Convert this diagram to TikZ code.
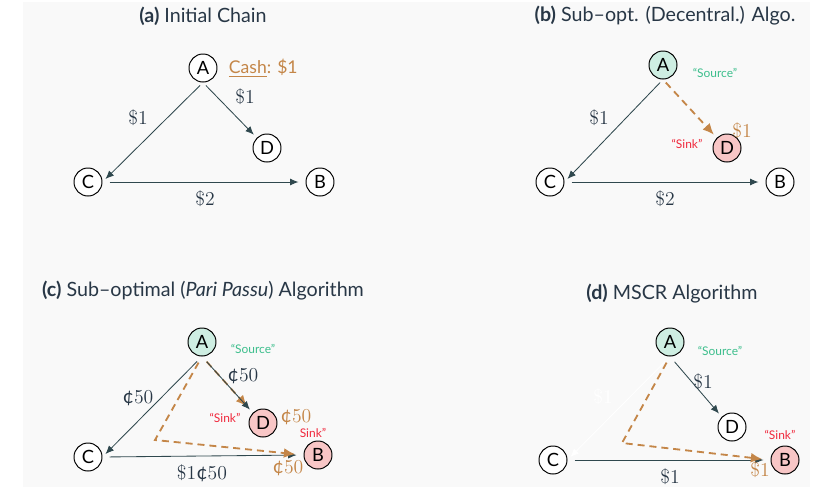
\documentclass[tikz,border=0pt]{standalone}
\usepackage{fontspec}
\setsansfont{Lato}
\usetikzlibrary{arrows.meta}
\definecolor{bgc}{RGB}{249,249,249}
\definecolor{linec}{RGB}{47,72,78}
\definecolor{textc}{RGB}{40,55,70}
\definecolor{tanc}{RGB}{196,134,72}
\definecolor{srcfill}{RGB}{206,238,226}
\definecolor{snkfill}{RGB}{248,198,198}
\definecolor{srctext}{RGB}{60,190,140}
\definecolor{snktext}{RGB}{240,40,60}
\newcommand{\cent}{\textsf{¢}}

\begin{document}
\begin{tikzpicture}[
  x=0.025cm, y=-0.025cm,
  agent/.style={circle, draw, line width=0.7pt, fill=white, minimum size=0.7cm,
    inner sep=0pt, font=\sffamily\fontsize{13}{14}\selectfont},
  source/.style={agent, fill=srcfill},
  sink/.style={agent, fill=snkfill},
  title/.style={font=\sffamily\fontsize{14}{16}\selectfont, text=textc},
  amt/.style={font=\fontsize{14}{16}\selectfont, text=textc},
  tanamt/.style={amt, text=tanc},
  srctag/.style={font=\sffamily\fontsize{8.5}{9}\selectfont, text=srctext},
  snktag/.style={font=\sffamily\fontsize{8.5}{9}\selectfont, text=snktext},
  flow/.style={draw=linec, line width=0.6pt, -{Latex[length=6pt,width=5pt]},
    shorten <=3pt},
  cashflow/.style={draw=tanc, line width=1.3pt, dash pattern=on 5pt off 3.5pt,
    -{Latex[length=8pt,width=7pt]}, shorten <=3pt}
]
  \useasboundingbox (0,0) rectangle (825,489);
  \fill[bgc] (23,2) rectangle (810,487);
  %
  % (a) initial chain
  \node[title] (ta) at (203,16) {\textbf{(a)} Initial Chain};
  \node[agent] (Aa) at (203,68) {A};
  \node[agent] (Da) at (267,148) {D};
  \node[agent] (Ca) at (88,182) {C};
  \node[agent] (Ba) at (320,182) {B};
  \node[anchor=west, font=\sffamily\fontsize{12.5}{14}\selectfont, text=tanc]
    (casha) at (224,68) {\underline{Cash}: \$1};
  \draw[flow, shorten >=3pt] (Aa.south) -- (Ca.east);
  \draw[flow, shorten >=3pt] (Aa.south) -- (Da.north west);
  \draw[flow, shorten <=5pt, shorten >=5pt] (Ca.east) -- (Ba.west);
  \node[amt] (ACa) at (138,118) {\$1};
  \node[amt] (ADa) at (245,97) {\$1};
  \node[amt] (CBa) at (205,199) {\$2};
  %
  % (b) decentralised
  \node[title] (tb) at (665,16) {\textbf{(b)} Sub--opt. (Decentral.) Algo.};
  \node[source] (Ab) at (663,65) {A};
  \node[sink] (Db) at (727,148) {D};
  \node[agent] (Cb) at (550,182) {C};
  \node[agent] (Bb) at (780,182) {B};
  \node[srctag] (srcb) at (715,73) {``Source''};
  \node[snktag] (snkb) at (687,144) {``Sink''};
  \draw[flow, shorten >=3pt] (Ab.south) -- (Cb.east);
  \draw[flow, shorten <=5pt, shorten >=5pt] (Cb.east) -- (Bb.west);
  \draw[cashflow, shorten >=3pt] (Ab.south) -- (Db.north west);
  \node[tanamt] (cb) at (742,131) {\$1};
  \node[amt] (ACb) at (599,118) {\$1};
  \node[amt] (CBb) at (665,199) {\$2};
  %
  % (c) pari passu
  \node[title] (tc) at (203,291) {\textbf{(c)} Sub--optimal (\textit{Pari Passu}) Algorithm};
  \node[source] (Ac) at (202,342) {A};
  \node[sink] (Dc) at (263,423) {D};
  \node[agent] (Cc) at (88,457) {C};
  \node[sink] (Bc) at (318,455) {B};
  \coordinate (kc) at (155,440);
  \node[srctag] (srcc) at (253,349) {``Source''};
  \node[snktag] (snkc) at (225,418) {``Sink''};
  \node[snktag] (snkc2) at (313,433) {Sink''};
  \draw[flow, shorten <=5pt, shorten >=3pt] (Ac.south) -- (Cc.east);
  \draw[cashflow, shorten <=5pt, shorten >=6pt] (Ac.south) -- (Dc.north west);
  \draw[flow, shorten <=5pt, shorten >=3pt] (Ac.south) -- (Dc.north west);
  \draw[flow, shorten <=5pt, shorten >=5pt] (Cc.east) -- (Bc.west);
  \draw[cashflow, shorten <=5pt, shorten >=6pt] (Ac.south) -- (kc) -- (Bc.west);
  \node[tanamt] (cc1) at (296,417) {\cent50};
  \node[tanamt] (cc2) at (288,468) {\cent50};
  \node[amt] (ACc) at (138,398) {\cent50};
  \node[amt] (ADc) at (243,376) {\cent50};
  \node[amt] (CBc) at (202,473) {\$1\cent50};
  %
  % (d) MSCR
  \node[title] (td) at (672,294) {\textbf{(d)} MSCR Algorithm};
  \node[source] (Ad) at (670,342) {A};
  \node[agent] (Dd) at (732,427) {D};
  \node[agent] (Cd) at (553,460) {C};
  \node[sink] (Bd) at (785,460) {B};
  \coordinate (kd) at (622,443);
  \node[srctag] (srcd) at (720,351) {``Source''};
  \node[snktag] (snkd) at (780,435) {``Sink''};
  \draw[flow, draw=white, shorten <=5pt, shorten >=3pt] (Ad.south) -- (Cd.east);
  \draw[flow, shorten <=5pt, shorten >=3pt] (Ad.south) -- (Dd.north west);
  \draw[flow, shorten <=5pt, shorten >=5pt] (Cd.east) -- (Bd.west);
  \draw[cashflow, shorten <=5pt, shorten >=6pt] (Ad.south) -- (kd) -- (Bd.west);
  \node[amt, text=white] (ACd) at (603,397) {\$1};
  \node[amt] (ADd) at (703,382) {\$1};
  \node[amt] (CBd) at (670,477) {\$1};
  \node[tanamt] (cd) at (760,470) {\$1};
\end{tikzpicture}
\end{document}
